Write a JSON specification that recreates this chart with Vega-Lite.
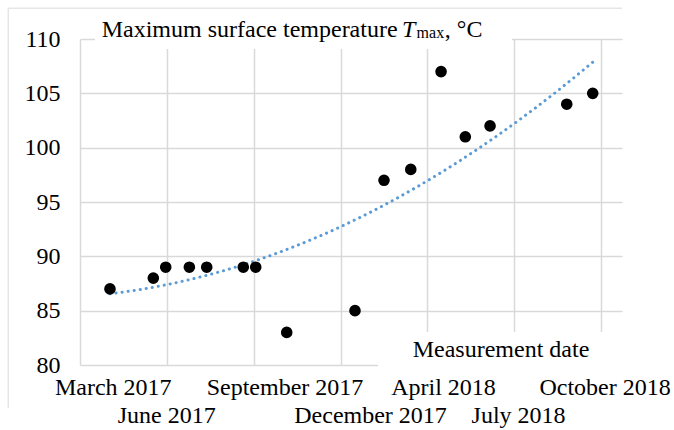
{
  "$schema": "https://vega.github.io/schema/vega-lite/v6.json",
  "width": 542,
  "height": 326,
  "autosize": {"type": "none"},
  "padding": {"left": 80, "top": 39, "right": 52, "bottom": 65},
  "background": "white",
  "config": {"view": {"stroke": null}, "font": "Liberation Serif"},
  "datasets": {
    "measurements": [
      {"t": 0.345, "temp": 87},
      {"t": 0.844, "temp": 88},
      {"t": 0.987, "temp": 89},
      {"t": 1.259, "temp": 89},
      {"t": 1.459, "temp": 89},
      {"t": 1.880, "temp": 89},
      {"t": 2.023, "temp": 89},
      {"t": 2.380, "temp": 83},
      {"t": 3.166, "temp": 85},
      {"t": 3.500, "temp": 97},
      {"t": 3.808, "temp": 98},
      {"t": 4.157, "temp": 107},
      {"t": 4.436, "temp": 101},
      {"t": 4.721, "temp": 102},
      {"t": 5.604, "temp": 104},
      {"t": 5.903, "temp": 105}
    ],
    "labelsTop": [
      {"label": "March 2017", "t": 0.383},
      {"label": "September 2017", "t": 2.360},
      {"label": "April 2018", "t": 4.185},
      {"label": "October 2018", "t": 6.045}
    ],
    "labelsBottom": [
      {"label": "June 2017", "t": 0.998},
      {"label": "December 2017", "t": 3.345},
      {"label": "July 2018", "t": 5.049}
    ]
  },
  "layer": [
    {
      "data": {"name": "measurements"},
      "mark": {"type": "circle", "size": 135, "color": "#000000", "opacity": 0},
      "encoding": {
        "x": {
          "field": "t", "type": "quantitative", "title": null,
          "scale": {"domain": [0, 6.24], "nice": false, "zero": false},
          "axis": {"values": [0, 1, 2, 3, 4, 5, 6], "grid": true, "gridColor": "#d9d9d9", "gridWidth": 1.5, "labels": false, "ticks": false, "domain": false, "title": null}
        },
        "y": {
          "field": "temp", "type": "quantitative", "title": null,
          "scale": {"domain": [80, 110], "nice": false, "zero": false},
          "axis": {"values": [80, 85, 90, 95, 100, 105, 110], "grid": true, "gridColor": "#d9d9d9", "gridWidth": 1.5, "domain": false, "ticks": false, "labelFont": "Liberation Serif", "labelFontSize": 24, "labelColor": "#000000", "labelPadding": 20, "labelFlush": false, "labelOverlap": false, "title": null}
        }
      }
    },
    {
      "data": {"values": [{"box": "title"}]},
      "mark": {"type": "rect", "color": "white"},
      "encoding": {
        "x": {"datum": 0.173},
        "x2": {"datum": 4.974},
        "y": {"datum": 109.08},
        "y2": {"datum": 112.5}
      }
    },
    {
      "data": {"values": [{"box": "axis title"}]},
      "mark": {"type": "rect", "color": "white"},
      "encoding": {
        "x": {"datum": 3.431},
        "x2": {"datum": 6.5},
        "y": {"datum": 83.04},
        "y2": {"datum": 78.6}
      }
    },
    {
      "data": {"name": "measurements"},
      "transform": [{"regression": "temp", "on": "t", "method": "poly", "order": 2}],
      "mark": {"type": "line", "color": "#5b9bd5", "strokeWidth": 3, "strokeDash": [0.1, 6], "strokeCap": "round"},
      "encoding": {
        "x": {"field": "t", "type": "quantitative", "title": null},
        "y": {"field": "temp", "type": "quantitative", "title": null}
      }
    },
    {
      "data": {"name": "measurements"},
      "mark": {"type": "circle", "size": 135, "color": "#000000", "opacity": 1},
      "encoding": {
        "x": {"field": "t", "type": "quantitative", "title": null},
        "y": {"field": "temp", "type": "quantitative", "title": null}
      }
    },
    {
      "data": {"values": [{"label": "Maximum surface temperature"}]},
      "mark": {"type": "text", "align": "left", "baseline": "alphabetic", "fontSize": 24, "font": "Liberation Serif", "color": "#000000"},
      "encoding": {
        "x": {"datum": 0.25},
        "y": {"datum": 110.21},
        "text": {"field": "label"}
      }
    },
    {
      "data": {"values": [{"label": "T"}]},
      "mark": {"type": "text", "align": "left", "baseline": "alphabetic", "fontSize": 24, "font": "Liberation Serif", "fontStyle": "italic", "color": "#000000"},
      "encoding": {
        "x": {"datum": 3.707},
        "y": {"datum": 110.21},
        "text": {"field": "label"}
      }
    },
    {
      "data": {"values": [{"label": "max"}]},
      "mark": {"type": "text", "align": "left", "baseline": "alphabetic", "fontSize": 16, "font": "Liberation Serif", "color": "#000000"},
      "encoding": {
        "x": {"datum": 3.875},
        "y": {"datum": 110.06},
        "text": {"field": "label"}
      }
    },
    {
      "data": {"values": [{"label": ", °C"}]},
      "mark": {"type": "text", "align": "left", "baseline": "alphabetic", "fontSize": 24, "font": "Liberation Serif", "color": "#000000"},
      "encoding": {
        "x": {"datum": 4.2},
        "y": {"datum": 110.21},
        "text": {"field": "label"}
      }
    },
    {
      "data": {"values": [{"label": "Measurement date"}]},
      "mark": {"type": "text", "align": "center", "baseline": "alphabetic", "fontSize": 24, "font": "Liberation Serif", "color": "#000000"},
      "encoding": {
        "x": {"datum": 4.847},
        "y": {"datum": 80.76},
        "text": {"field": "label"}
      }
    },
    {
      "data": {"name": "labelsTop"},
      "mark": {"type": "text", "align": "center", "baseline": "alphabetic", "fontSize": 24, "font": "Liberation Serif", "color": "#000000"},
      "encoding": {
        "x": {"field": "t", "type": "quantitative", "title": null},
        "y": {"datum": 77.24},
        "text": {"field": "label"}
      }
    },
    {
      "data": {"name": "labelsBottom"},
      "mark": {"type": "text", "align": "center", "baseline": "alphabetic", "fontSize": 24, "font": "Liberation Serif", "color": "#000000"},
      "encoding": {
        "x": {"field": "t", "type": "quantitative", "title": null},
        "y": {"datum": 74.64},
        "text": {"field": "label"}
      }
    },
    {
      "data": {"values": [{"edge": "top"}]},
      "mark": {"type": "rule", "color": "#e6e6e6", "strokeWidth": 1.5},
      "encoding": {
        "x": {"datum": -0.826},
        "x2": {"datum": 6.24},
        "y": {"datum": 112.83}
      }
    },
    {
      "data": {"values": [{"edge": "left"}]},
      "mark": {"type": "rule", "color": "#e6e6e6", "strokeWidth": 1.5},
      "encoding": {
        "x": {"datum": -0.826},
        "y": {"datum": 112.83},
        "y2": {"datum": 76.04}
      }
    }
  ]
}
